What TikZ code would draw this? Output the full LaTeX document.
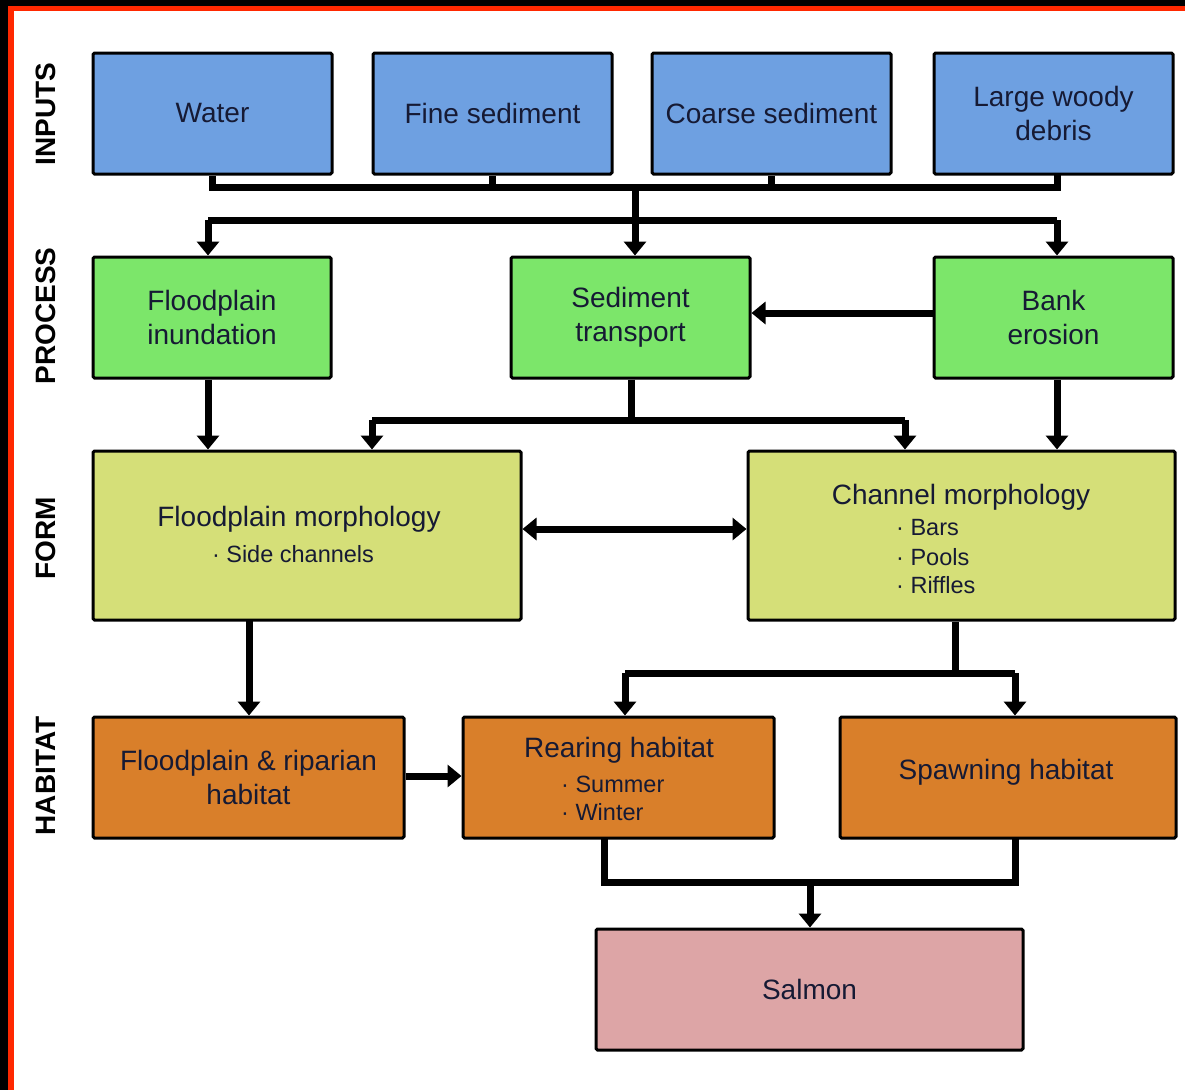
\documentclass[tikz,border=0pt]{standalone}
\usepackage{fontspec}
\setmainfont{Liberation Sans}
\usetikzlibrary{arrows.meta}
\definecolor{txt}{RGB}{22,26,52}
\definecolor{cblue}{RGB}{110,160,225}
\definecolor{cgreen}{RGB}{124,230,106}
\definecolor{cyel}{RGB}{213,223,120}
\definecolor{corange}{RGB}{217,127,42}
\definecolor{cpink}{RGB}{221,165,166}
\definecolor{cred}{RGB}{255,40,0}
\tikzset{
  box/.style={draw=black, line width=3pt, rounded corners=1.5pt, text=txt, inner sep=0pt,
    font=\fontsize{28}{34}\selectfont, align=center},
  inbox/.style={box, fill=cblue, minimum width=239pt, minimum height=121pt},
  prbox/.style={box, fill=cgreen, minimum height=121pt},
  fobox/.style={box, fill=cyel, minimum height=169pt},
  habox/.style={box, fill=corange, minimum height=121pt},
  title/.style={text=txt, inner sep=0pt, font=\fontsize{28}{34}\selectfont},
  sub/.style={text=txt, inner sep=0pt, font=\fontsize{23.5}{28}\selectfont},
  conn/.style={line width=7pt, draw=black, line join=miter},
  arr/.style={conn, -{Triangle[width=22pt,length=14pt]}},
  darr/.style={conn, {Triangle[width=22pt,length=14pt]}-{Triangle[width=22pt,length=14pt]}},
  layer/.style={rotate=90, inner sep=0pt, font=\bfseries\fontsize{28}{30}\selectfont}
}
\begin{document}
\begin{tikzpicture}[x=1pt,y=-1pt]
\useasboundingbox (0,0) rectangle (1185,1090);
\fill[white] (0,0) rectangle (1185,1090);
% frame
\fill[black] (0,0) rectangle (1185,6);
\fill[black] (0,0) rectangle (8,1090);
\fill[cred] (8,6) rectangle (1185,11);
\fill[cred] (8,6) rectangle (14,1090);

% layer labels
\node[layer] (lin) at (46,114) {INPUTS};
\node[layer] (lpr) at (46,316) {PROCESS};
\node[layer] (lfo) at (46,538) {FORM};
\node[layer] (lha) at (46,776) {HABITAT};

% inputs
\node[inbox] (water) at (212.5,113.5) {Water};
\node[inbox] (fine) at (492.5,113.5) {Fine sediment};
\node[inbox] (coarse) at (771.5,113.5) {Coarse sediment};
\node[inbox] (lwd) at (1053.5,113.5) {Large woody\\debris};

% process
\node[prbox, minimum width=238pt] (fi) at (212,317.5) {Floodplain\\inundation};
\node[prbox, minimum width=239pt] (st) at (630.5,317.5) {Sediment\\transport};
\node[prbox, minimum width=239pt] (be) at (1053.5,317.5) {Bank\\erosion};

% form
\node[fobox, minimum width=428pt] (fm) at (307,535.5) {};
\node[title] (fmt) at (299,519) {Floodplain morphology};
\node[sub] (fms) at (293,554) {· Side channels};
\node[fobox, minimum width=427pt] (cm) at (961.5,535.5) {};
\node[title] (cmt) at (961,497) {Channel morphology};
\node[sub, anchor=west] (cm1) at (896,528) {· Bars};
\node[sub, anchor=west] (cm2) at (896,557) {· Pools};
\node[sub, anchor=west] (cm3) at (896,585) {· Riffles};

% habitat
\node[habox, minimum width=311pt] (fr) at (248.5,777.5) {Floodplain \& riparian\\habitat};
\node[habox, minimum width=311pt] (rh) at (618.5,777.5) {};
\node[title] (rht) at (619,750) {Rearing habitat};
\node[sub, anchor=west] (rh1) at (561,784) {· Summer};
\node[sub, anchor=west] (rh2) at (561,812) {· Winter};
\node[habox, minimum width=336pt] (sh) at (1008,777.5) {};
\node[title] (sht) at (1006,772) {Spawning habitat};

% salmon
\node[box, fill=cpink, minimum width=427pt, minimum height=121pt] (salmon) at (809.5,989.5) {Salmon};

% bus coordinates
\coordinate (b1) at (635,187);
\coordinate (b2) at (635,220);
\coordinate (b2w) at (208,220);
\coordinate (b2e) at (1057,220);
\coordinate (b3) at (631,420);
\coordinate (b3w) at (372,420);
\coordinate (b3e) at (905,420);
\coordinate (b4) at (955,673);
\coordinate (b4w) at (625,673);
\coordinate (b4e) at (1015,673);
\coordinate (rhs) at (604,838);
\coordinate (shs) at (1015,838);
\coordinate (b5w) at (604,882);
\coordinate (b5e) at (1015,882);
\coordinate (b5) at (810,882);
\coordinate (fms2) at (249,620);
\coordinate (lwds) at (1057,174);

% inputs -> bus
\draw[conn] (water.south) -- (water.south |- b1) -- (b1 -| lwds) -- (lwds);
\draw[conn] (fine.south) -- (fine.south |- b1);
\draw[conn] (coarse.south) -- (coarse.south |- b1);
\draw[conn] (b1) -- (b2);
\draw[conn] (b2w) -- (b2e);
\draw[arr] (b2w) -- (b2w |- fi.north);
\draw[arr] (b2) -- (b2 |- st.north);
\draw[arr] (b2e) -- (b2e |- be.north);

% process
\draw[arr] (be.west |- 0,313) -- (st.east |- 0,313);
\draw[arr] (b2w |- fi.south) -- (b2w |- fm.north);
\draw[conn] (st.south -| b3) -- (b3);
\draw[conn] (b3w) -- (b3e);
\draw[arr] (b3w) -- (b3w |- fm.north);
\draw[arr] (b3e) -- (b3e |- cm.north);
\draw[arr] (b2e |- be.south) -- (b2e |- cm.north);

% form
\draw[darr] (fm.east |- 0,529) -- (cm.west |- 0,529);
\draw[arr] (fms2) -- (fms2 |- fr.north);
\draw[conn] (cm.south -| b4) -- (b4);
\draw[conn] (b4w) -- (b4e);
\draw[arr] (b4w) -- (b4w |- rh.north);
\draw[arr] (b4e) -- (b4e |- sh.north);

% habitat
\draw[arr] (fr.east |- 0,776) -- (rh.west |- 0,776);
\draw[conn] (rhs) -- (b5w) -- (b5e) -- (shs);
\draw[arr] (b5) -- (b5 |- salmon.north);
\end{tikzpicture}
\end{document}
